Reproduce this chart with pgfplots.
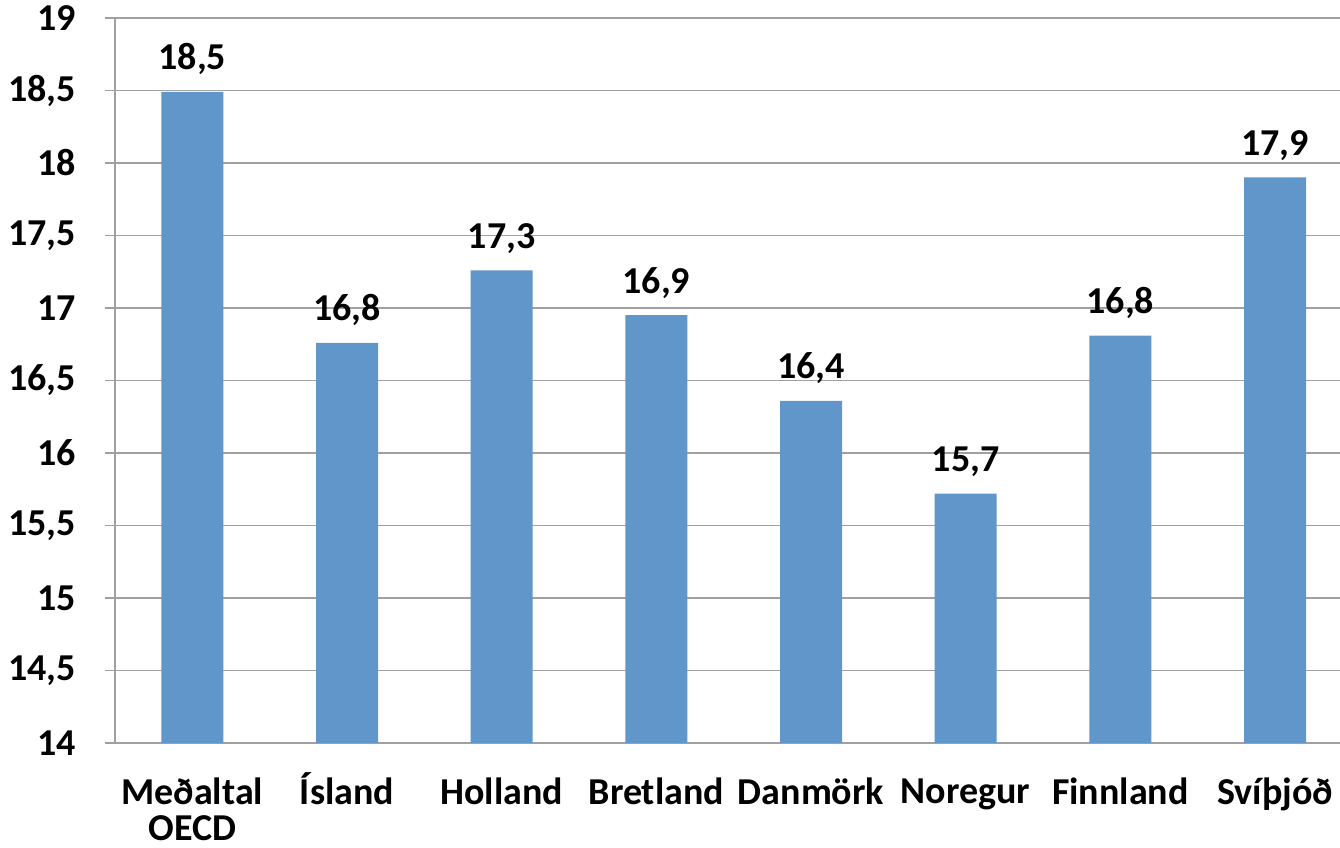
\documentclass[border=0pt]{standalone}
\usepackage{fontspec}
\setmainfont{Carlito}
\usepackage{pgfplots}
\pgfplotsset{compat=1.18}
\usepackage{pgfplotstable}
\definecolor{barblue}{RGB}{97,150,202}
\definecolor{gridgray}{RGB}{160,160,160}
\pgfplotstableread{
x y lab
0 18.49 18,5
1 16.76 16,8
2 17.26 17,3
3 16.95 16,9
4 16.36 16,4
5 15.72 15,7
6 16.81 16,8
7 17.90 17,9
}\datatable
\begin{document}
\fontsize{19}{18}\selectfont\bfseries
\begin{tikzpicture}
\begin{axis}[
  scale only axis,
  width=612.5pt, height=362.5pt,
  xmin=-0.5, xmax=7.42,
  ymin=14, ymax=19,
  ytick={14,14.5,...,19},
  ymajorgrids,
  grid style={gridgray, line width=0.65pt},
  axis lines*=left,
  axis line style={gridgray, line width=0.65pt},
  tick style={gridgray, line width=0.65pt},
  major tick length=5pt,
  tick align=outside,
  xtick={0,...,7},
  xticklabels={{\strut Meðaltal\\\strut OECD},\strut\smash{Í}sland,\strut Holland,\strut Bretland,\strut Danmörk,\strut Noregur,\strut Finnland,\strut Svíþjóð},
  x tick style={draw=none},
  extra x ticks={-0.5,0.5,1.5,2.5,3.5,4.5,5.5,6.5},
  extra x tick labels={},
  extra x tick style={tick style={gridgray, line width=0.65pt}, major tick length=5pt, grid=none},
  xticklabel style={align=center, anchor=north, yshift=-6pt, font=\fontsize{19}{18}\selectfont\bfseries},
  yticklabel style={anchor=east, xshift=-8pt, font=\fontsize{19}{20}\selectfont\bfseries},
  /pgf/number format/assume math mode=true,
  /pgf/number format/use comma,
  /pgf/number format/fixed,
  clip=false,
]
\addplot[ybar, bar width=31pt, fill=barblue, draw=none,
  nodes near coords, point meta=explicit symbolic,
  every node near coord/.append style={font=\fontsize{19}{20}\selectfont\bfseries, black, anchor=south, yshift=2pt}]
  table[x=x, y=y, meta=lab] {\datatable};
\coordinate (sw) at (rel axis cs:0,0);
\coordinate (ne) at (rel axis cs:1,1);
\end{axis}
\pgfresetboundingbox
\path[use as bounding box] ([xshift=-57.5pt,yshift=-52.5pt]sw) rectangle ([yshift=9pt]ne);
\end{tikzpicture}
\end{document}
